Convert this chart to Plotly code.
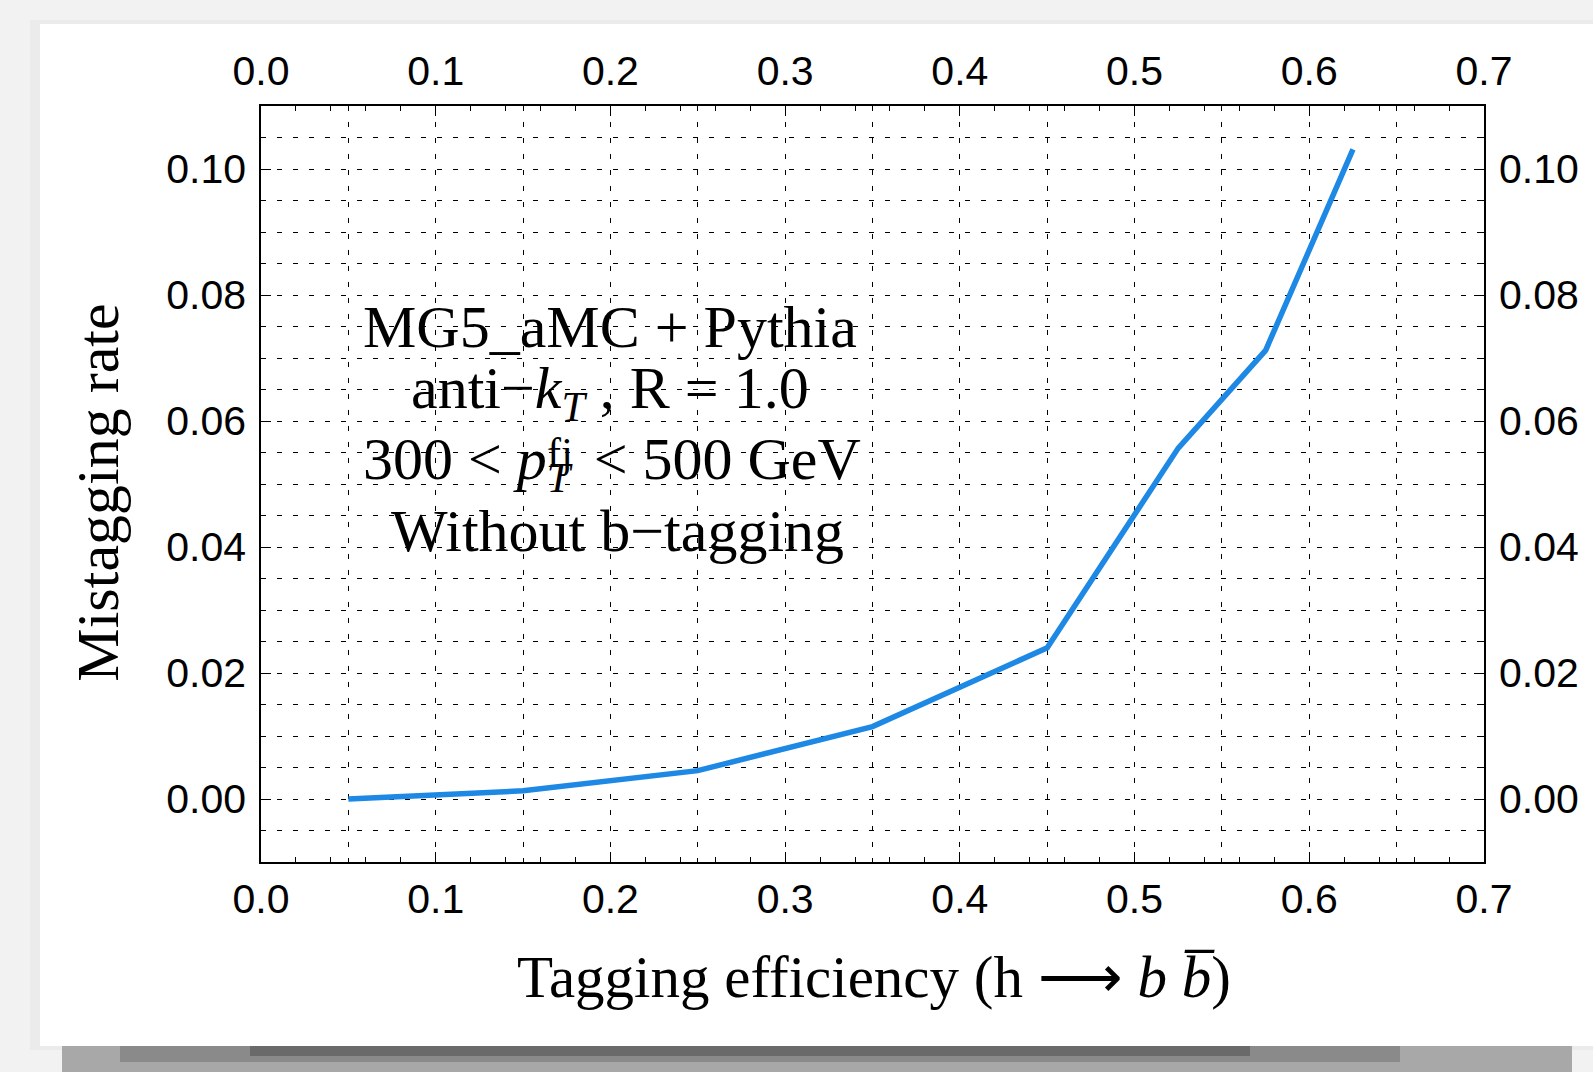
import plotly.graph_objects as go

# ---- data ----
tag_eff = [0.05, 0.15, 0.25, 0.35, 0.45, 0.525, 0.575, 0.625]
mistag_rate = [0.0, 0.0013, 0.0045, 0.0115, 0.0240, 0.0557, 0.0712, 0.1031]

x_range = [0.0, 0.7]
y_range = [-0.01, 0.11]

label_lines = [
    "MG5_aMC + Pythia",
    "anti\u2212<i>k</i><sub><i>T</i></sub> , R = 1.0",
    "300 &lt; <i>p</i><sub><i>T</i>\u2009</sub> &lt; 500 GeV",
    "Without b\u2212tagging",
]
label_x = [0.1997, 0.1997, 0.2007, 0.2043]
label_y = [0.0750, 0.0645, 0.0533, 0.0426]
sup_text = "fj"
sup_x = 0.1712
sup_y = 0.0549

x_title = "Tagging efficiency (h \u27f6 <i>b</i> <i>b\u0305</i>)"
y_title = "Mistagging rate"

W, H = 1593, 1072
L, R, T, B = 261, 109, 106, 210

SANS = "Liberation Sans, Arial, sans-serif"
SERIF = "Liberation Serif, Times New Roman, serif"
BLUE = "#1E88E5"

fig = go.Figure()
fig.add_trace(go.Scatter(x=tag_eff, y=mistag_rate, mode="lines",
                         line=dict(color=BLUE, width=5.5), hoverinfo="skip",
                         showlegend=False))
# invisible traces to activate secondary axes
fig.add_trace(go.Scatter(x=tag_eff, y=mistag_rate, xaxis="x2", yaxis="y2",
                         mode="lines", opacity=0, hoverinfo="skip", showlegend=False))
fig.add_trace(go.Scatter(x=tag_eff, y=mistag_rate, xaxis="x3", yaxis="y",
                         mode="lines", opacity=0, hoverinfo="skip", showlegend=False))

tickfont = dict(family=SANS, size=41, color="black")
GRIDDASH = "5px,11px"

common_x = dict(range=x_range, dtick=0.1, tick0=0, tickformat=".1f",
                ticks="inside", ticklen=10, tickwidth=1, tickcolor="black",
                showline=True, linecolor="black", linewidth=1.5,
                showgrid=False, zeroline=False, tickfont=tickfont,
                minor=dict(dtick=0.02, tick0=0, ticks="inside", ticklen=5,
                           tickcolor="black", showgrid=False))
common_y = dict(range=y_range, dtick=0.02, tick0=0, tickformat=".2f",
                ticks="inside", ticklen=10, tickwidth=1, tickcolor="black",
                showline=True, linecolor="black", linewidth=1.5,
                zeroline=False, tickfont=tickfont, ticklabelstandoff=5)

fig.update_layout(
    width=W, height=H,
    margin=dict(l=L, r=R, t=T, b=B, pad=0),
    paper_bgcolor="#f2f2f2",
    plot_bgcolor="rgba(0,0,0,0)",
    showlegend=False,
    xaxis=dict(**common_x, side="bottom", anchor="y", ticklabelstandoff=0),
    xaxis2=dict(**common_x, side="top", overlaying="x", anchor="y", ticklabelstandoff=3),
    xaxis3=dict(range=x_range, dtick=0.05, tick0=0, overlaying="x", anchor="y",
                showgrid=True, gridcolor="black", gridwidth=1, griddash=GRIDDASH,
                showticklabels=False, ticks="", showline=False, zeroline=False),
    yaxis=dict(**common_y, side="left", anchor="x",
               showgrid=True, gridcolor="black", gridwidth=1, griddash=GRIDDASH,
               minor=dict(dtick=0.005, tick0=0, ticks="inside", ticklen=5,
                          tickcolor="black", showgrid=True, gridcolor="black",
                          gridwidth=1, griddash=GRIDDASH)),
    yaxis2=dict(**common_y, side="right", overlaying="y", anchor="x", showgrid=False,
                minor=dict(dtick=0.005, tick0=0, ticks="inside", ticklen=5,
                           tickcolor="black", showgrid=False)),
)

# paper card background
def px_to_paper_x(px):
    return (px - L) / (W - L - R)

def px_to_paper_y(py):
    return (H - B - py) / (H - T - B)

def rect(x0, y0, x1, y1, color):
    return dict(type="rect", xref="paper", yref="paper", layer="below",
                x0=px_to_paper_x(x0), x1=px_to_paper_x(x1),
                y0=px_to_paper_y(y1), y1=px_to_paper_y(y0),
                fillcolor=color, line=dict(width=0))

shapes = [
    rect(30, 20, 1600, 1050, "#ebebeb"),
    # bottom shadow
    rect(62, 1040, 1572, 1075, "#a8a8a8"),
    rect(120, 1040, 1400, 1062, "#8a8a8a"),
    rect(250, 1040, 1250, 1056, "#6a6a6a"),
    # white card
    rect(40, 24, 1600, 1046, "white"),
]
fig.update_layout(shapes=shapes)

annotations = []
for txt, xx, yy in zip(label_lines, label_x, label_y):
    annotations.append(dict(x=xx, y=yy, xref="x", yref="y", text=txt,
                            showarrow=False, xanchor="center", yanchor="middle",
                            font=dict(family=SERIF, size=60, color="black")))
annotations.append(dict(x=sup_x, y=sup_y, xref="x", yref="y", text=sup_text,
                        showarrow=False, xanchor="center", yanchor="middle",
                        font=dict(family=SERIF, size=42, color="black")))
annotations.append(dict(x=0.501, y=-0.152, xref="paper", yref="paper", text=x_title,
                        showarrow=False, xanchor="center", yanchor="middle",
                        font=dict(family=SERIF, size=59, color="black")))
annotations.append(dict(x=-0.133, y=0.489, xref="paper", yref="paper", text=y_title,
                        showarrow=False, xanchor="center", yanchor="middle",
                        textangle=-90,
                        font=dict(family=SERIF, size=60, color="black")))
fig.update_layout(annotations=annotations)

fig.write_html("out.html")
